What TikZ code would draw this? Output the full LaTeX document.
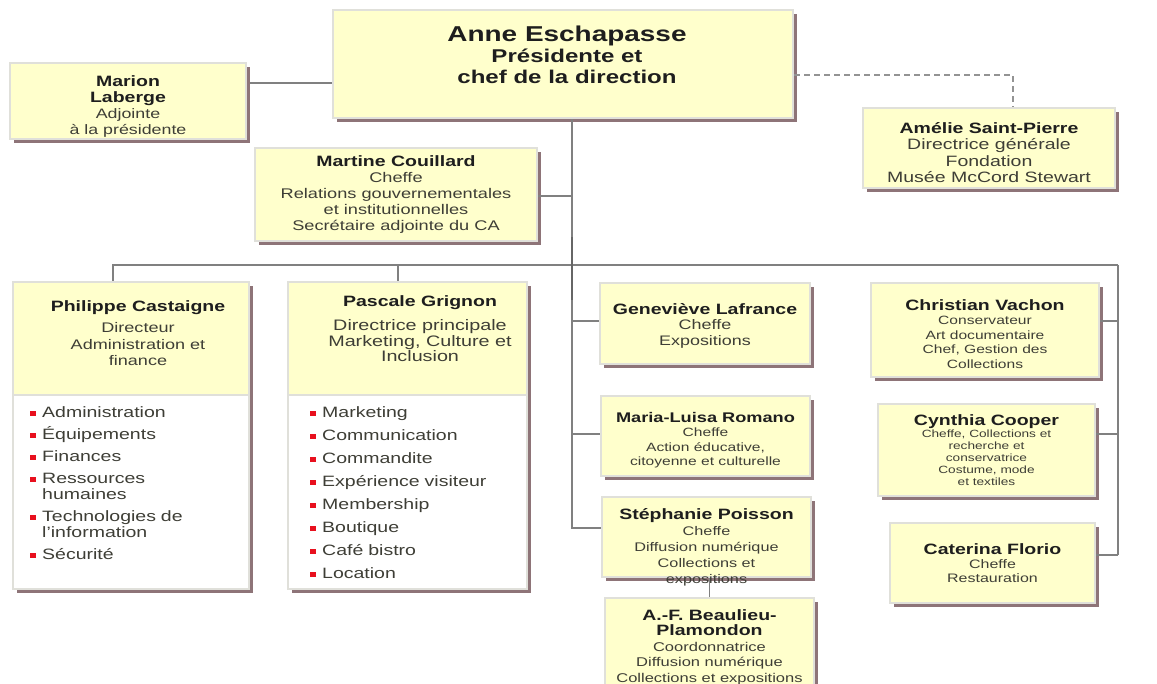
\documentclass[tikz,border=0pt]{standalone}
\usepackage{fontspec}
\setmainfont{Liberation Sans}[FakeStretch=1.3]
\usepackage{tikz}
\usetikzlibrary{shadows}

\definecolor{cardfill}{HTML}{FFFFCC}
\definecolor{cardedge}{HTML}{E0E0DA}
\definecolor{cardshadow}{HTML}{8E7478}
\definecolor{linkgray}{HTML}{808080}
\definecolor{bodygray}{HTML}{3E3E36}
\definecolor{namecol}{HTML}{1E1E1E}
\definecolor{bulletred}{HTML}{E8101E}

\newcommand{\fs}[2]{\fontsize{#1}{#2}\selectfont}
\newcommand{\who}[1]{{\fs{15}{16}\bfseries\color{namecol}#1}}
\newcommand{\down}[1]{\rule{0pt}{#1pt}}
\newcommand{\orgitem}{\par\hangindent=12pt\hangafter=1\noindent\makebox[12pt][l]{\textcolor{bulletred}{\rule[1.5pt]{6pt}{4.5pt}}}}

\begin{document}
\begin{tikzpicture}[x=1pt, y=-1pt,
    card/.style={draw=cardedge, line width=2.5pt, fill=cardfill, inner sep=0pt, align=center, text=bodygray,
                 drop shadow={shadow xshift=4pt, shadow yshift=-4pt, fill=cardshadow, opacity=1}},
    head/.style={draw=cardedge, line width=2.5pt, fill=cardfill, inner sep=0pt},
    link/.style={draw=linkgray, line width=1.2pt},
    dashlink/.style={link, draw=linkgray!85, dash pattern=on 6pt off 4pt},
    lst/.style={anchor=north west, text width=205pt, align=left, inner sep=0pt, text=bodygray, font=\fs{15}{16}}]
      \fill[white] (0,0) rectangle (1157,683);
      \useasboundingbox (0,0) rectangle (1157,683);

      % direction
      \node[card, minimum width=460, minimum height=108] (anne) at (563,64) {};
      \node[anchor=north, align=center, text=namecol, font=\bfseries\fs{18.5}{21}] (annetxt) at (567,22)
            {{\fs{21.5}{21}Anne Eschapasse}\\Présidente et\\chef de la direction};
      \node[card, minimum width=236, minimum height=76, font=\fs{13.7}{16}] (marion) at (128,101)
            {\down{21}\who{Marion}\\\who{Laberge}\\Adjointe\\à la présidente};
      \node[card, minimum width=252, minimum height=80, font=\fs{15}{16.5}] (amelie) at (989,148)
            {\down{20}\who{Amélie Saint-Pierre}\\Directrice générale\\Fondation\\Musée McCord Stewart};
      \node[card, minimum width=282, minimum height=93, font=\fs{14}{16}] (martine) at (396,194.5)
            {\who{Martine Couillard}\\Cheffe\\Relations gouvernementales\\et institutionnelles\\Secrétaire adjointe du CA};

      % directions avec services
      \node[card, fill=white, minimum width=236, minimum height=307] (phil) at (131,435.5) {};
      \node[head, minimum width=236, minimum height=113]              (philhead) at (131,338.5) {};
      \node[anchor=north, align=center, text=bodygray, font=\fs{13.9}{16.5}] (philtxt) at (138,297)
            {\who{Philippe Castaigne}\\[5pt]Directeur\\Administration et\\finance};
      \node[lst] (phillist) at (30,395)
            {\setlength{\parskip}{6pt}\orgitem Administration \orgitem Équipements \orgitem Finances
             \orgitem Ressources\hfil\break humaines \orgitem Technologies de\hfil\break l'information \orgitem Sécurité};

      \node[card, fill=white, minimum width=239, minimum height=307] (pasc) at (407.5,435.5) {};
      \node[head, minimum width=239, minimum height=113]              (paschead) at (407.5,338.5) {};
      \node[anchor=north, align=center, text=bodygray, font=\fs{15.2}{15.5}] (pasctxt) at (420,292)
            {\who{Pascale Grignon}\\[9pt]Directrice principale\\Marketing, Culture et\\Inclusion};
      \node[lst] (pasclist) at (310,394)
            {\setlength{\parskip}{7pt}\orgitem Marketing \orgitem Communication \orgitem Commandite
             \orgitem Expérience visiteur \orgitem Membership \orgitem Boutique \orgitem Café bistro \orgitem Location};

      % colonne du centre
      \node[card, minimum width=210, minimum height=81, font=\fs{13.8}{15.5}] (genevieve) at (705,323.5)
            {\down{15}\who{Geneviève Lafrance}\\Cheffe\\Expositions};
      \node[card, minimum width=209, minimum height=80, font=\fs{12}{14.5}] (maria) at (705.5,436)
            {\down{18}\who{\fs{14}{16}Maria-Luisa Romano}\\Cheffe\\Action éducative,\\citoyenne et culturelle};
      \node[card, minimum width=209, minimum height=80] (stephanie) at (706.5,537) {};
      \node[anchor=north, align=center, text=bodygray, font=\fs{12.5}{16}] (stephtxt) at (706.5,505)
            {\who{Stéphanie Poisson}\\Cheffe\\Diffusion numérique\\Collections et\\expositions};
      \node[card, minimum width=209, minimum height=92, font=\fs{12.7}{15.5}] (afb) at (709.5,644)
            {\down{17}\who{A.-F. Beaulieu-}\\\who{Plamondon}\\Coordonnatrice\\Diffusion numérique\\Collections et expositions};

      % colonne de droite
      \node[card, minimum width=228, minimum height=94, font=\fs{12}{14.5}] (christian) at (985,330)
            {\down{19}\who{Christian Vachon}\\Conservateur\\Art documentaire\\Chef, Gestion des\\Collections};
      \node[card, minimum width=217, minimum height=92, font=\fs{10.5}{12}] (cynthia) at (986.5,450)
            {\who{Cynthia Cooper}\\Cheffe, Collections et\\recherche et\\conservatrice\\Costume, mode\\et textiles};
      \node[card, minimum width=205, minimum height=80, font=\fs{12.3}{14}] (caterina) at (992.5,563)
            {\who{Caterina Florio}\\Cheffe\\Restauration};

      % liens
      \coordinate (marlink) at (250,83);
      \coordinate (dashcorner) at (1013,75);
      \coordinate (busL) at (113,265);
      \coordinate (busM) at (398,265);
      \coordinate (busR) at (1118,265);
      \coordinate (trunkA) at (572,237);
      \coordinate (trunkB) at (572,300);
      \draw[link]     (marlink) -- (marlink -| anne.west);
      \draw[dashlink] (anne.east |- dashcorner) -- (dashcorner) -- (dashcorner |- amelie.north);
      \draw[link]     (busL |- phil.north) -- (busL) -- (busR);
      \draw[link]     (busM) -- (busM |- pasc.north);
      \foreach \y/\nm in {196/martine, 321/genevieve, 434/maria, 528/stephanie} {
        \coordinate (t-\nm) at (572,\y);
      }
      \draw[link]     (trunkA |- anne.south) -- (t-stephanie) -- (t-stephanie -| stephanie.west);
      \draw[link]     (t-martine) -- (t-martine -| martine.east);
      \draw[link]     (t-genevieve) -- (t-genevieve -| genevieve.west);
      \draw[link]     (t-maria) -- (t-maria -| maria.west);
      \draw[link, line width=2.2pt, draw=linkgray!80!black] (trunkA) -- (trunkB);
      \foreach \y/\nm in {321/christian, 434/cynthia, 555/caterina} {
        \coordinate (r-\nm) at (1118,\y);
        \draw[link]   (r-\nm) -- (r-\nm -| \nm.east);
      }
      \draw[link]     (busR) -- (r-caterina);
      \draw[link]     (afb.north) -- (afb.north |- stephanie.south);
    \end{tikzpicture}
\end{document}
